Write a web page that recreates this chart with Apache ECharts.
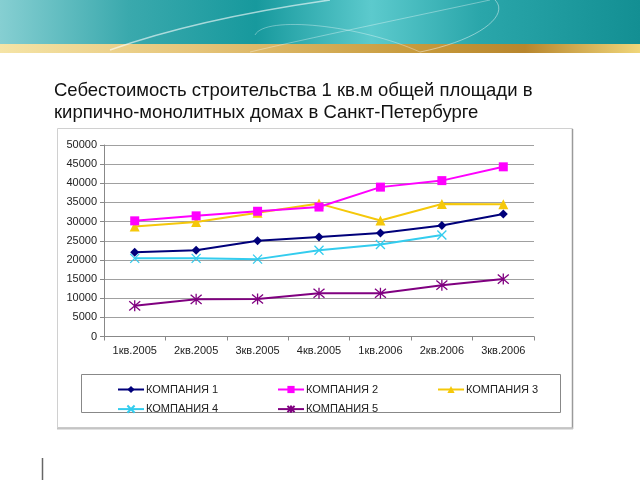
<!DOCTYPE html>
<html><head><meta charset="utf-8">
<script src="https://cdn.jsdelivr.net/npm/echarts@6/dist/echarts.min.js"></script>
<style>html,body{margin:0;padding:0;background:#fff}#c{width:640px;height:480px}</style>
</head><body><div id="c"></div>
<script>
const categories = ['1кв.2005','2кв.2005','3кв.2005','4кв.2005','1кв.2006','2кв.2006','3кв.2006'];
const names = ['КОМПАНИЯ 1','КОМПАНИЯ 2','КОМПАНИЯ 3','КОМПАНИЯ 4','КОМПАНИЯ 5'];
const company1 = [22000, 22500, 25000, 26000, 27000, 29000, 32000];
const company2 = [30200, 31500, 32700, 33800, 39000, 40700, 44300];
const company3 = [28700, 29900, 32300, 34700, 30300, 34600, 34500];
const company4 = [20400, 20400, 20200, 22500, 24000, 26500, null];
const company5 = [8000, 9700, 9800, 11300, 11300, 13400, 15000];
const titleLines = ['Себестоимость строительства 1 кв.м общей площади в', 'кирпично-монолитных домах в Санкт-Петербурге'];

const colors = ['#00007a','#ff00ff','#f5c80a','#33ccee','#800080'];
const symbols = ['diamond','rect','triangle','path://M0,0L10,10M10,0L0,10','path://M0,0L10,10M10,0L0,10M5,-1L5,11'];
const symSizes = [9,9,10,9,11];
const datas = [company1, company2, company3, company4, company5];

const series = names.map((n,i)=>{
  const stroke = i>=3;
  return {
    name:n, type:'line', data:datas[i], symbol:symbols[i], symbolSize:symSizes[i],
    showAllSymbol:true, connectNulls:false,
    lineStyle:{color:colors[i], width:2},
    itemStyle: stroke ? {color:'none', borderColor:colors[i], borderWidth:1.3} : {color:colors[i], borderWidth:0},
    emphasis:{disabled:true}, animation:false, z: 10-i
  };
});

const legendPos = [[112,379],[272,379],[432,379],[112,398],[272,398]];
const legends = names.map((n,i)=>({
  data:[n], left:legendPos[i][0], top:legendPos[i][1], itemWidth:26, itemHeight:9, itemGap:2,
  textStyle:{fontFamily:'Liberation Sans, Arial', fontSize:11, color:'#222', padding:[0,0,0,-3]},
  selectedMode:false
}));

const chart = echarts.init(document.getElementById('c'), null, {renderer:'canvas'});
chart.setOption({
  animation:false,
  backgroundColor:'#fff',
  grid:{left:104, right:106, top:145, bottom:143.5},
  legend: legends,
  xAxis:{type:'category', data:categories, boundaryGap:true,
    axisLine:{lineStyle:{color:'#888', width:1}},
    axisTick:{show:true, length:4, lineStyle:{color:'#888'}},
    axisLabel:{fontFamily:'Liberation Sans, Arial', fontSize:11, color:'#222', margin:9}},
  yAxis:{type:'value', min:0, max:50000, interval:5000,
    axisLine:{show:true, lineStyle:{color:'#888'}},
    axisTick:{show:true, length:4, lineStyle:{color:'#888'}},
    splitLine:{lineStyle:{color:'#a0a0a0', width:1}},
    axisLabel:{fontFamily:'Liberation Sans, Arial', fontSize:11, color:'#222', margin:7,
      formatter:(v)=>String(v)}},
  series: series,
  graphic:[
    {type:'rect', shape:{x:0,y:0,width:640,height:44}, silent:true, z:-10,
      style:{fill:new echarts.graphic.LinearGradient(0,0,1,0,[
        {offset:0,color:'#86cfd2'},{offset:0.2,color:'#3aa9ad'},{offset:0.4,color:'#17999d'},
        {offset:0.58,color:'#5ccacd'},{offset:0.75,color:'#2aa6aa'},{offset:1,color:'#138f93'}])}},
    {type:'rect', shape:{x:0,y:44,width:640,height:9}, silent:true, z:-9,
      style:{fill:new echarts.graphic.LinearGradient(0,0,1,0,[
        {offset:0,color:'#f5e4a6'},{offset:0.3,color:'#e6c57a'},{offset:0.65,color:'#c79a3c'},
        {offset:0.82,color:'#b8862d'},{offset:1,color:'#f0d67a'}])}},
    {type:'bezierCurve', shape:{x1:110,y1:50,x2:640/2+10,y2:0,cpx1:180,cpy1:25,cpx2:260,cpy2:10}, silent:true, z:-8,
      style:{stroke:'rgba(255,255,255,0.6)', lineWidth:1.5, fill:null}},
    {type:'bezierCurve', shape:{x1:250,y1:52,x2:490,y2:0,cpx1:300,cpy1:40,cpx2:420,cpy2:15}, silent:true, z:-8,
      style:{stroke:'rgba(255,255,255,0.35)', lineWidth:1, fill:null}},
    {type:'bezierCurve', shape:{x1:420,y1:52,x2:495,y2:0,cpx1:480,cpy1:40,cpx2:510,cpy2:15}, silent:true, z:-8,
      style:{stroke:'rgba(255,255,255,0.45)', lineWidth:1, fill:null}},
    {type:'bezierCurve', shape:{x1:255,y1:35,x2:420,y2:52,cpx1:265,cpy1:15,cpx2:360,cpy2:25}, silent:true, z:-8,
      style:{stroke:'rgba(255,255,255,0.35)', lineWidth:1, fill:null}},
    {type:'text', left:54, top:80, silent:true,
      style:{text:titleLines.join('\n'), fontFamily:'Liberation Sans, Arial', fontSize:18.5, lineHeight:22, fill:'#111'}},
    {type:'rect', shape:{x:57.5,y:128.5,width:515,height:299}, silent:true, z:-5,
      style:{fill:'#fff', stroke:'#d0d0d0', lineWidth:1}},
    {type:'line', shape:{x1:572.5,y1:129,x2:572.5,y2:429}, silent:true, z:-4, style:{stroke:'#9a9a9a', lineWidth:1.5}},
    {type:'line', shape:{x1:57,y1:428.5,x2:573,y2:428.5}, silent:true, z:-4, style:{stroke:'#c4c4c4', lineWidth:2}},
    {type:'rect', shape:{x:81.5,y:374.5,width:479,height:38}, silent:true, z:-3,
      style:{fill:'#fff', stroke:'#888', lineWidth:1}},
    {type:'line', shape:{x1:42.5,y1:458,x2:42.5,y2:480}, silent:true, style:{stroke:'#666', lineWidth:1.5}}
  ]
});
</script></body></html>
